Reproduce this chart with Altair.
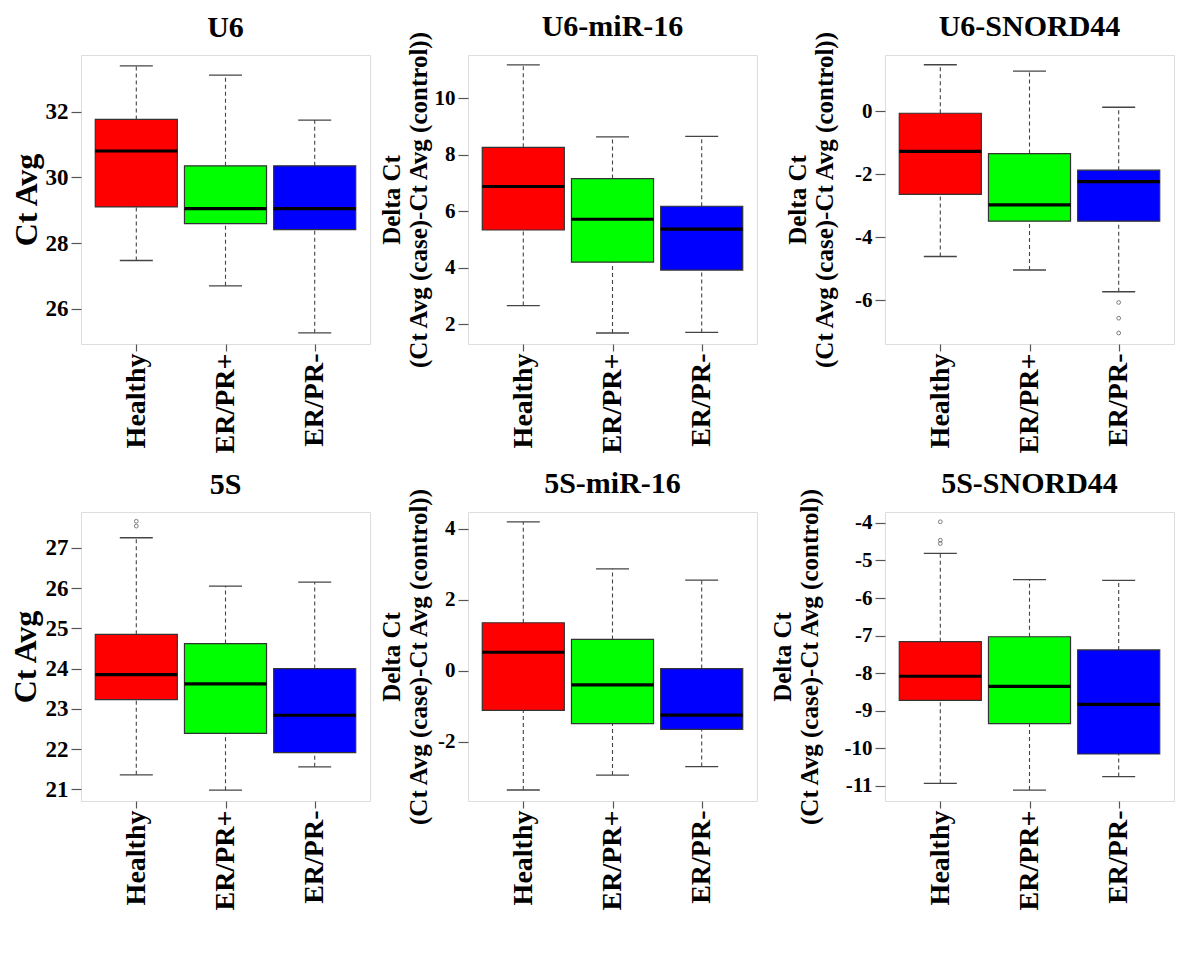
import altair as alt
import pandas as pd

groups = ["Healthy", "ER/PR+", "ER/PR-"]
colors = ["#FF0000", "#00FF00", "#0000FF"]

# ---- U6 ----
u6_low = [27.47, 26.70, 25.27]
u6_q1 = [29.10, 28.59, 28.41]
u6_med = [30.80, 29.05, 29.05]
u6_q3 = [31.76, 30.35, 30.35]
u6_high = [33.39, 33.11, 31.74]
u6_out_group = []
u6_out_val = []

# ---- U6-miR-16 ----
u6m_low = [2.66, 1.69, 1.71]
u6m_q1 = [5.34, 4.20, 3.92]
u6m_med = [6.88, 5.72, 5.37]
u6m_q3 = [8.27, 7.16, 6.18]
u6m_high = [11.19, 8.64, 8.66]
u6m_out_group = []
u6m_out_val = []

# ---- U6-SNORD44 ----
u6s_low = [-4.61, -5.04, -5.73]
u6s_q1 = [-2.64, -3.49, -3.49]
u6s_med = [-1.27, -2.97, -2.23]
u6s_q3 = [-0.06, -1.34, -1.87]
u6s_high = [1.48, 1.28, 0.13]
u6s_out_group = ["ER/PR-", "ER/PR-", "ER/PR-"]
u6s_out_val = [-6.07, -6.57, -7.04]

# ---- 5S ----
s5_low = [21.36, 20.98, 21.56]
s5_q1 = [23.23, 22.39, 21.91]
s5_med = [23.85, 23.62, 22.84]
s5_q3 = [24.85, 24.62, 24.00]
s5_high = [27.25, 26.05, 26.15]
s5_out_group = ["Healthy", "Healthy"]
s5_out_val = [27.66, 27.54]

# ---- 5S-miR-16 ----
s5m_low = [-3.36, -2.94, -2.70]
s5m_q1 = [-1.12, -1.49, -1.65]
s5m_med = [0.52, -0.40, -1.25]
s5m_q3 = [1.35, 0.88, 0.06]
s5m_high = [4.19, 2.87, 2.55]
s5m_out_group = []
s5m_out_val = []

# ---- 5S-SNORD44 ----
s5s_low = [-10.93, -11.11, -10.75]
s5s_q1 = [-8.72, -9.34, -10.15]
s5s_med = [-8.08, -8.35, -8.83]
s5s_q3 = [-7.16, -7.03, -7.38]
s5s_high = [-4.81, -5.51, -5.53]
s5s_out_group = ["Healthy", "Healthy", "Healthy"]
s5s_out_val = [-3.97, -4.46, -4.55]

FONT = "Liberation Serif"
W, H = 289, 289
BOX_HALF = 0.46
CAP_HALF = 0.185
XDOM = [0.38, 3.62]
LINE_H = 27

label_expr = " : ".join(
    [f"datum.value == {i + 1} ? '{g}'" for i, g in enumerate(groups[:-1])] + [f"'{groups[-1]}'"]
)


def panel(title, ytitle, low, q1, med, q3, high, og, ov, ydom, yticks, ytitle_size,
          title_x, ylab_size, title_dy):
    pos = [i + 1 for i in range(len(groups))]
    df = pd.DataFrame({
        "group": groups, "pos": pos, "color": colors,
        "low": low, "q1": q1, "med": med, "q3": q3, "high": high,
    })
    df["bl"] = df["pos"] - BOX_HALF
    df["br"] = df["pos"] + BOX_HALF
    df["cl"] = df["pos"] - CAP_HALF
    df["cr"] = df["pos"] + CAP_HALF
    odf = pd.DataFrame({"pos": [groups.index(g) + 1 for g in og], "val": ov})

    xs = alt.Scale(domain=XDOM, nice=False, zero=False)
    ys = alt.Scale(domain=ydom, nice=False, zero=False)
    xaxis = alt.Axis(values=pos, labelExpr=label_expr, labelAngle=270, title=None,
                     grid=False, domain=False, tickSize=7, tickColor="#555", tickWidth=1.2,
                     labelFont=FONT, labelFontWeight="bold", labelFontSize=28,
                     labelColor="black", labelPadding=2)
    yaxis = alt.Axis(values=yticks, labelExpr="'' + datum.value", grid=False, domain=False,
                     tickSize=10, tickColor="#555", tickWidth=1.2, labelFont=FONT,
                     labelFontWeight="bold", labelFontSize=ylab_size, labelColor="black",
                     labelPadding=3, title=ytitle, titleFont=FONT, titleFontWeight="bold",
                     titleFontSize=ytitle_size, titleColor="black",
                     titleLineHeight=LINE_H, titleX=title_x, titleY=H / 2,
                     titleAngle=270, titleAlign="center", titleBaseline="bottom")

    def X(f):
        return alt.X(f, scale=xs, axis=xaxis)

    def Y(f):
        return alt.Y(f, scale=ys, axis=yaxis)

    base = alt.Chart(df)
    whisk_up = base.mark_rule(color="#444", strokeDash=[4, 3], strokeWidth=1.1).encode(
        x=X("pos:Q"), y=Y("q3:Q"), y2="high:Q")
    whisk_dn = base.mark_rule(color="#444", strokeDash=[4, 3], strokeWidth=1.1).encode(
        x=X("pos:Q"), y=Y("low:Q"), y2="q1:Q")
    cap_hi = base.mark_rule(color="#444", strokeWidth=1.3).encode(
        x=X("cl:Q"), x2="cr:Q", y=Y("high:Q"))
    cap_lo = base.mark_rule(color="#444", strokeWidth=1.3).encode(
        x=X("cl:Q"), x2="cr:Q", y=Y("low:Q"))
    box = base.mark_bar(stroke="#333", strokeWidth=1.2).encode(
        x=X("bl:Q"), x2="br:Q", y=Y("q1:Q"), y2="q3:Q",
        fill=alt.Fill("color:N", scale=None))
    median = base.mark_rule(color="black", strokeWidth=3.2).encode(
        x=X("bl:Q"), x2="br:Q", y=Y("med:Q"))
    layers = [whisk_up, whisk_dn, cap_hi, cap_lo, box, median]
    if len(odf):
        outl = alt.Chart(odf).mark_point(shape="circle", size=14, filled=False,
                                          color="#444", strokeWidth=1).encode(
            x=X("pos:Q"), y=Y("val:Q"))
        layers.append(outl)
    return alt.layer(*layers).properties(
        width=W, height=H,
        title=alt.TitleParams(title, font=FONT, fontWeight="bold", fontSize=30,
                              color="black", offset=12, anchor="middle", frame="group",
                              dy=title_dy),
    )


dct = ["Delta Ct", "(Ct Avg (case)-Ct Avg (control))"]

p1 = panel("U6", "Ct Avg", u6_low, u6_q1, u6_med, u6_q3, u6_high, u6_out_group, u6_out_val,
           [24.93, 33.72], [26, 28, 30, 32], 32, -38, 23, 0)
p2 = panel("U6-miR-16", dct, u6m_low, u6m_q1, u6m_med, u6m_q3, u6m_high, u6m_out_group,
           u6m_out_val, [1.30, 11.54], [2, 4, 6, 8, 10], 25, -37 - LINE_H, 21, 24)
p3 = panel("U6-SNORD44", dct, u6s_low, u6s_q1, u6s_med, u6s_q3, u6s_high, u6s_out_group,
           u6s_out_val, [-7.39, 1.79], [-6, -4, -2, 0], 25, -48 - LINE_H, 21, 24)
p4 = panel("5S", "Ct Avg", s5_low, s5_q1, s5_med, s5_q3, s5_high, s5_out_group, s5_out_val,
           [20.71, 27.89], [21, 22, 23, 24, 25, 26, 27], 32, -39, 23, 0)
p5 = panel("5S-miR-16", dct, s5m_low, s5m_q1, s5m_med, s5m_q3, s5m_high, s5m_out_group,
           s5m_out_val, [-3.67, 4.47], [-2, 0, 2, 4], 25, -37 - LINE_H, 21, 24)
p6 = panel("5S-SNORD44", dct, s5s_low, s5s_q1, s5s_med, s5s_q3, s5s_high, s5s_out_group,
           s5s_out_val, [-11.40, -3.71], [-11, -10, -9, -8, -7, -6, -5, -4], 25,
           -63 - LINE_H, 21, 24)

row1 = alt.hconcat(alt.hconcat(p1, p2, spacing=7), p3, spacing=26)
row2 = alt.hconcat(alt.hconcat(p4, p5, spacing=7), p6, spacing=11)
chart = alt.vconcat(row1, row2, spacing=14).configure_view(
    stroke="#555", strokeWidth=1.5
).configure(background="white",
            padding={"left": 0, "top": 3, "right": 5, "bottom": 5})

chart.save("out.html", embed_options={"renderer": "svg", "actions": False})
